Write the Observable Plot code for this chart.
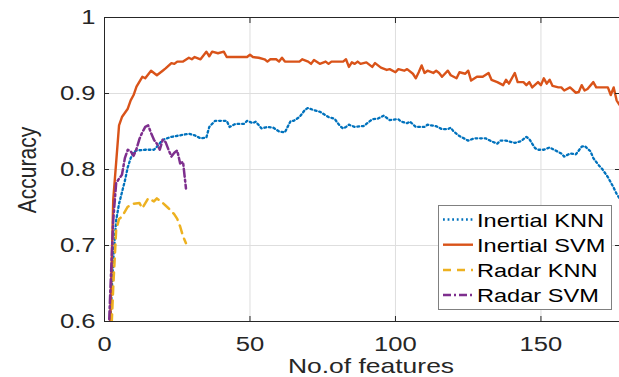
<!DOCTYPE html>
<html><head><meta charset="utf-8">
<script src="https://cdn.jsdelivr.net/npm/d3@7"></script>
<script src="https://cdn.jsdelivr.net/npm/@observablehq/plot@0.6"></script>
<style>html,body{margin:0;padding:0;background:#fff}svg{display:block}</style>
</head><body><div id="chart"></div>
<script>
const seriesNames = ["Inertial KNN", "Inertial SVM", "Radar KNN", "Radar SVM"];
const seriesColors = ["#0072BD", "#D95319", "#EDB120", "#7E2F8E"];

const inertialKnn = [[1,0.52],[2,0.60],[3,0.68],[4,0.733],[5,0.755],[6,0.77],[7,0.785],[8,0.803],[9,0.815],[10,0.823],[11,0.825],[14,0.826],[17,0.826],[18,0.830],[20,0.839],[23,0.843],[26,0.845],[29,0.847],[31,0.845],[33,0.841],[35,0.842],[36,0.856],[38,0.864],[42,0.864],[43,0.856],[45,0.860],[48,0.860],[49,0.864],[51,0.861],[52,0.863],[54,0.854],[56,0.856],[58,0.855],[60,0.850],[62,0.849],[64,0.864],[65,0.864],[67,0.869],[69,0.879],[70,0.881],[72,0.878],[74,0.876],[77,0.869],[79,0.867],[80,0.862],[81,0.857],[82,0.854],[83,0.856],[84,0.859],[86,0.856],[88,0.857],[89,0.857],[90,0.860],[92,0.866],[94,0.867],[96,0.871],[98,0.865],[100,0.866],[101,0.866],[102,0.863],[104,0.861],[105,0.863],[107,0.856],[110,0.856],[111,0.859],[114,0.857],[116,0.853],[118,0.853],[119,0.855],[120,0.850],[122,0.844],[125,0.838],[127,0.841],[131,0.841],[133,0.837],[135,0.834],[136,0.838],[138,0.838],[141,0.835],[143,0.837],[145,0.843],[146,0.840],[148,0.828],[149,0.826],[151,0.826],[153,0.829],[155,0.825],[157,0.821],[158,0.817],[160,0.821],[162,0.820],[164,0.830],[165,0.831],[167,0.824],[168,0.815],[170,0.805],[171,0.801],[173,0.790],[175,0.776],[176,0.768],[177,0.762]];

const inertialSvm = [[1,0.44],[2,0.60],[3,0.76],[5,0.858],[6,0.869],[8,0.880],[9,0.891],[10,0.898],[11,0.909],[13,0.922],[14,0.920],[16,0.930],[18,0.924],[20,0.930],[21,0.933],[23,0.940],[24,0.939],[25,0.942],[27,0.942],[29,0.947],[30,0.945],[31,0.948],[33,0.945],[35,0.955],[36,0.949],[37,0.955],[39,0.953],[41,0.955],[42,0.948],[49,0.948],[50,0.951],[51,0.948],[53,0.947],[55,0.945],[56,0.942],[57,0.945],[59,0.945],[60,0.942],[61,0.947],[62,0.942],[67,0.942],[68,0.945],[70,0.942],[71,0.939],[72,0.944],[74,0.939],[76,0.942],[77,0.939],[78,0.942],[82,0.942],[83,0.945],[84,0.935],[85,0.941],[86,0.939],[87,0.942],[88,0.939],[90,0.941],[92,0.935],[93,0.940],[95,0.934],[97,0.931],[98,0.932],[100,0.928],[101,0.932],[103,0.930],[104,0.932],[106,0.926],[107,0.920],[108,0.928],[109,0.937],[110,0.927],[111,0.930],[113,0.927],[114,0.930],[115,0.927],[116,0.922],[118,0.930],[119,0.924],[121,0.920],[122,0.928],[124,0.926],[125,0.930],[126,0.917],[128,0.922],[130,0.922],[132,0.927],[133,0.918],[135,0.915],[137,0.911],[138,0.918],[139,0.913],[141,0.927],[142,0.915],[144,0.915],[145,0.911],[146,0.915],[147,0.908],[149,0.915],[150,0.911],[151,0.920],[152,0.913],[153,0.918],[154,0.910],[156,0.908],[157,0.908],[158,0.904],[160,0.908],[162,0.901],[163,0.902],[164,0.911],[165,0.904],[166,0.906],[168,0.915],[169,0.908],[173,0.908],[174,0.898],[175,0.908],[176,0.891],[177,0.885]];

const radarKnn = [[1,0.47],[2,0.555],[3,0.645],[4,0.72],[5,0.735],[6,0.738],[8,0.751],[10,0.755],[12,0.756],[13,0.749],[15,0.762],[17,0.758],[18,0.762],[20,0.756],[22,0.749],[24,0.741],[25,0.735],[26,0.725],[27,0.712],[28,0.703]];

const radarSvm = [[1,0.54],[2,0.64],[3,0.733],[4,0.782],[5,0.788],[6,0.793],[7,0.815],[8,0.826],[9,0.824],[10,0.818],[11,0.827],[12,0.84],[13,0.849],[14,0.856],[15,0.858],[16,0.848],[17,0.839],[18,0.834],[19,0.826],[20,0.839],[21,0.836],[22,0.826],[23,0.817],[24,0.822],[25,0.825],[26,0.808],[27,0.810],[28,0.775]];

const xTicks = [0, 50, 100, 150];
const yTicks = [0.6, 0.7, 0.8, 0.9, 1];
const xLabel = "No.of features";
const yLabel = "Accuracy";

const seriesData = [inertialKnn, inertialSvm, radarKnn, radarSvm];
const rows = [];
seriesData.forEach((arr, i) => arr.forEach(([f, a]) => rows.push({series: seriesNames[i], features: f, accuracy: a})));

const lineStyles = [
  {dash: "1.8,2.8", width: 2.3},
  {dash: null, width: 2.4},
  {dash: "8,6", width: 2.5},
  {dash: "8,3,2,3", width: 2.5}
];

const W = 619, H = 377, mL = 104, mR = 0, mT = 17, mB = 56;
const font = "'Liberation Sans', Arial, sans-serif";
const ink = "#262626";

const plot = Plot.plot({
  width: W, height: H,
  marginLeft: mL, marginRight: mR, marginTop: mT, marginBottom: mB,
  style: {fontFamily: font, fontSize: "20px", color: ink, background: "#fff"},
  x: {domain: [0, 177]},
  y: {domain: [0.6, 1]},
  marks: [
    Plot.gridX(xTicks, {stroke: "#dedede", strokeOpacity: 1, strokeWidth: 1}),
    Plot.gridY(yTicks, {stroke: "#dedede", strokeOpacity: 1, strokeWidth: 1}),
    ...seriesNames.map((name, i) => Plot.line(rows.filter(d => d.series === name), {
      x: "features", y: "accuracy",
      stroke: seriesColors[i], strokeWidth: lineStyles[i].width,
      strokeDasharray: lineStyles[i].dash, strokeLinejoin: "round",
      clip: true
    })),
    Plot.frame({stroke: ink, strokeWidth: 1}),
    Plot.axisX(xTicks, {anchor: "bottom", tickSize: -5, tickPadding: 20, tickFormat: d => String(d), label: null, stroke: ink}),
    Plot.axisX(xTicks, {anchor: "top", tickSize: -5, tickFormat: () => "", label: null, stroke: ink}),
    Plot.axisY(yTicks, {anchor: "left", tickSize: -5, tickPadding: 14, tickFormat: d => String(d), label: null, stroke: ink}),
    Plot.axisY(yTicks, {anchor: "right", tickSize: -5, tickFormat: () => "", label: null, stroke: ink})
  ]
});

document.getElementById("chart").appendChild(plot);
const svg = d3.select(plot);

// axis titles
svg.append("text").attr("class", "xlabel")
  .attr("x", 371).attr("y", 373)
  .attr("text-anchor", "middle").attr("font-size", 21).attr("fill", ink)
  .attr("font-family", font).text(xLabel);
svg.append("text").attr("class", "ylabel")
  .attr("transform", "translate(36,170) rotate(-90) scale(1,1.26)")
  .attr("text-anchor", "middle").attr("font-size", 21).attr("fill", ink)
  .attr("font-family", font).text(yLabel);

// legend
const lg = svg.append("g").attr("font-family", font).attr("text-anchor", "start");
lg.append("rect").attr("x", 438.5).attr("y", 205.5).attr("width", 173).attr("height", 104)
  .attr("fill", "#fff").attr("stroke", "#808080").attr("stroke-width", 1);
seriesNames.forEach((name, i) => {
  const cy = 219.5 + i * 25.2;
  lg.append("line").attr("x1", 443).attr("x2", 473).attr("y1", cy).attr("y2", cy)
    .attr("stroke", seriesColors[i]).attr("stroke-width", lineStyles[i].width)
    .attr("stroke-dasharray", lineStyles[i].dash);
  lg.append("text").attr("class", "legtext").attr("x", 477).attr("y", cy + 7)
    .attr("text-anchor", "start")
    .attr("font-size", 19).attr("fill", "#000").text(name);
});

// horizontal stretch of text (the reference is horizontally stretched)
function stretch(sel, k) {
  sel.each(function () {
    const t = this.textContent;
    if (!t) return;
    const w = this.getComputedTextLength();
    this.setAttribute("textLength", (w * k).toFixed(1));
    this.setAttribute("lengthAdjust", "spacingAndGlyphs");
  });
}
stretch(svg.selectAll("g[aria-label='x-axis tick label'] text, g[aria-label='y-axis tick label'] text"), 1.28);
stretch(svg.selectAll("text.xlabel"), 1.26);
stretch(svg.selectAll("text.legtext"), 1.24);
</script>
</body></html>
